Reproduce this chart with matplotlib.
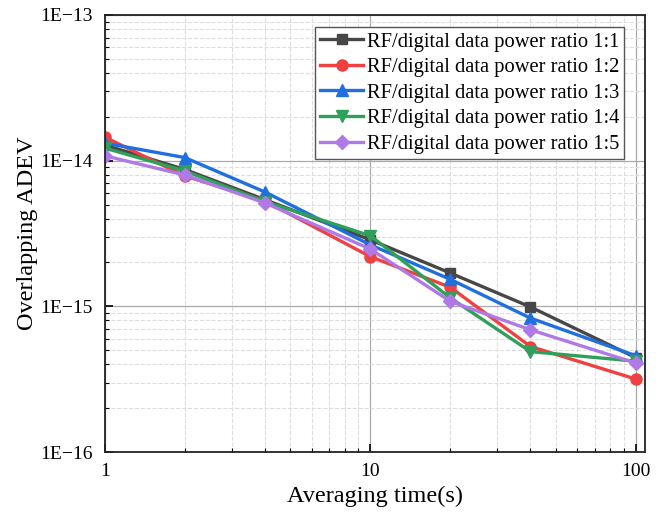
import matplotlib
matplotlib.use("Agg")
import matplotlib.pyplot as plt
from matplotlib.ticker import LogLocator, FuncFormatter, NullFormatter
import numpy as np

tau = [1, 2, 4, 10, 20, 40, 100]
r11 = [1.28e-14, 8.7e-15, 5.4e-15, 2.86e-15, 1.69e-15, 0.99e-15, 4.43e-16]
r12 = [1.45e-14, 7.85e-15, 5.3e-15, 2.19e-15, 1.35e-15, 5.3e-16, 3.16e-16]
r13 = [1.32e-14, 1.05e-14, 6.1e-15, 2.64e-15, 1.53e-15, 8.3e-16, 4.57e-16]
r14 = [1.22e-14, 8.5e-15, 5.24e-15, 3.05e-15, 1.14e-15, 4.89e-16, 4.2e-16]
r15 = [1.08e-14, 7.97e-15, 5.13e-15, 2.47e-15, 1.08e-15, 6.9e-16, 4.07e-16]
labels = ["RF/digital data power ratio 1:1", "RF/digital data power ratio 1:2",
          "RF/digital data power ratio 1:3", "RF/digital data power ratio 1:4",
          "RF/digital data power ratio 1:5"]
colors = ["#474747", "#f04040", "#1f6fe0", "#2fa05a", "#b07ae6"]
markers = ["s", "o", "^", "v", "D"]
msizes = [7, 8, 8, 8, 7]

plt.rcParams['font.family'] = ['Liberation Serif', 'DejaVu Serif']

fig = plt.figure(figsize=(6.63, 5.16), dpi=100)
ax = fig.add_axes([0.158, 0.124, 0.815, 0.847])

for y, lab, c, m, ms in zip([r11, r12, r13, r14, r15], labels, colors, markers, msizes):
    ax.plot(tau, y, color=c, marker=m, markersize=ms, linewidth=2.4, label=lab)

ax.set_xscale('log')
ax.set_yscale('log')
ax.set_xlim(1, 108)
ax.set_ylim(1e-16, 1e-13)

def yfmt(v, pos):
    e = int(round(np.log10(v)))
    return "1E\u2212%d" % (-e)
ax.yaxis.set_major_locator(LogLocator(base=10, numticks=10))
ax.yaxis.set_major_formatter(FuncFormatter(yfmt))
ax.yaxis.set_minor_locator(LogLocator(base=10, subs=np.arange(2, 10), numticks=20))
ax.yaxis.set_minor_formatter(NullFormatter())
ax.xaxis.set_major_formatter(FuncFormatter(lambda v, p: "%d" % v))
ax.xaxis.set_minor_formatter(NullFormatter())

ax.tick_params(which='both', direction='in', labelsize=14)
ax.tick_params(which='major', length=6, width=1.2)
ax.tick_params(which='minor', length=3, width=0.8)
ax.tick_params(axis='x', pad=8)
ax.tick_params(axis='y', pad=9)
ax.grid(which='major', color='#aaaaaa', linewidth=0.9, linestyle='-')
ax.grid(which='minor', color='#dddddd', linewidth=0.8, linestyle='--')
for s in ax.spines.values():
    s.set_linewidth(1.3)
    s.set_color('#222222')

ax.set_xlabel("Averaging time(s)", fontsize=17.5)
ax.set_ylabel("Overlapping ADEV", fontsize=17.5, labelpad=1)

leg = ax.legend(loc='upper right', bbox_to_anchor=(0.961, 0.9725), fontsize=14.8,
                frameon=True, fancybox=False, edgecolor='#555555', framealpha=1,
                handlelength=2.1, borderaxespad=0.0, labelspacing=0.3,
                handletextpad=0.15, borderpad=0.25)
leg.get_frame().set_linewidth(1.0)

fig.savefig("out.png", dpi=100)
